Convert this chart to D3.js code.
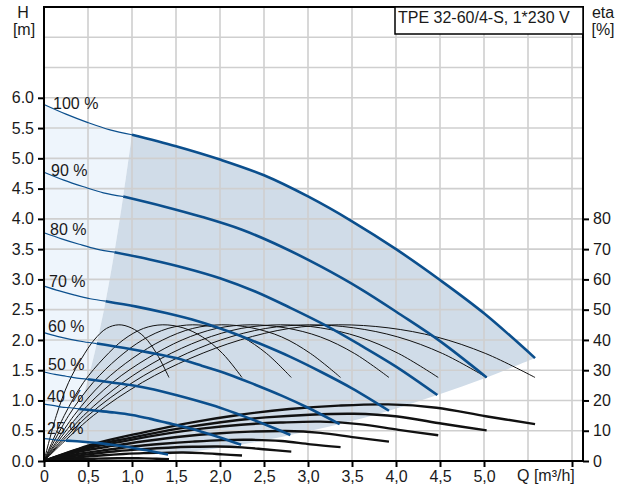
<!DOCTYPE html>
<html><head><meta charset="utf-8">
<script src="https://cdn.jsdelivr.net/npm/d3@7"></script>
<style>body{margin:0;background:#fff}svg{display:block}text{font-family:"Liberation Sans",Arial,sans-serif}</style>
</head><body><svg id="c" width="624" height="487"></svg>
<script>
// ---- data ----
const title = "TPE 32-60/4-S, 1*230 V";
const speedLabels = ["100 %","90 %","80 %","70 %","60 %","50 %","40 %","25 %"];
const hTicks = [0,0.5,1,1.5,2,2.5,3,3.5,4,4.5,5,5.5,6];
const qTicks = [0,0.5,1,1.5,2,2.5,3,3.5,4,4.5,5,6];
const etaTicks = [0,10,20,30,40,50,60,70,80];
// head curves [Q m3/h, H m]
const head100 = [[0,5.89],[0.25,5.73],[0.5,5.59],[0.75,5.47],[1.0,5.39],[1.5,5.20],[2.0,4.98],[2.5,4.72],[3.0,4.37],[3.5,3.96],[4.0,3.50],[4.5,2.99],[5.0,2.44],[5.58,1.70]];
const head90  = [[0,4.77],[0.225,4.64],[0.45,4.53],[0.675,4.43],[0.9,4.37],[1.35,4.21],[1.8,4.03],[2.25,3.82],[2.7,3.54],[3.15,3.21],[3.6,2.84],[4.05,2.42],[4.5,1.98],[5.03,1.38]];
const head80  = [[0,3.77],[0.2,3.67],[0.4,3.58],[0.6,3.50],[0.8,3.45],[1.2,3.33],[1.6,3.19],[2.0,3.02],[2.4,2.80],[2.8,2.53],[3.2,2.24],[3.6,1.91],[4.0,1.56],[4.47,1.09]];
const head70  = [[0,2.89],[0.175,2.81],[0.35,2.74],[0.525,2.68],[0.7,2.64],[1.05,2.55],[1.4,2.44],[1.75,2.31],[2.1,2.14],[2.45,1.94],[2.8,1.72],[3.15,1.47],[3.5,1.20],[3.92,0.83]];
const head60  = [[0,2.12],[0.15,2.06],[0.3,2.01],[0.45,1.97],[0.6,1.94],[0.9,1.87],[1.2,1.79],[1.5,1.70],[1.8,1.57],[2.1,1.43],[2.4,1.26],[2.7,1.08],[3.0,0.88],[3.36,0.61]];
const head50  = [[0,1.47],[0.125,1.43],[0.25,1.40],[0.375,1.37],[0.5,1.35],[0.75,1.30],[1.0,1.25],[1.25,1.18],[1.5,1.09],[1.75,0.99],[2.0,0.88],[2.25,0.75],[2.5,0.61],[2.80,0.43]];
const head40  = [[0,0.94],[0.1,0.92],[0.2,0.89],[0.3,0.88],[0.4,0.86],[0.6,0.83],[0.8,0.80],[1.0,0.76],[1.2,0.70],[1.4,0.63],[1.6,0.56],[1.8,0.48],[2.0,0.39],[2.24,0.27]];
const head25  = [[0,0.37],[0.0625,0.36],[0.125,0.35],[0.19,0.342],[0.25,0.337],[0.375,0.325],[0.5,0.31],[0.625,0.295],[0.75,0.273],[0.875,0.248],[1.0,0.219],[1.125,0.187],[1.25,0.153],[1.41,0.106]];
const headCurves = [head100,head90,head80,head70,head60,head50,head40,head25];
const minFlowIndex = 4; // thin part ends, operating range begins
// efficiency curves: flow points per speed
const flow100 = [0,0.56,1.12,1.67,2.23,2.79,3.35,3.91,4.46,5.02,5.58];
const flow90  = [0,0.50,1.01,1.51,2.01,2.52,3.02,3.52,4.02,4.53,5.03];
const flow80  = [0,0.45,0.90,1.34,1.79,2.24,2.69,3.14,3.58,4.03,4.48];
const flow70  = [0,0.39,0.78,1.18,1.57,1.96,2.35,2.74,3.14,3.53,3.92];
const flow60  = [0,0.34,0.67,1.01,1.35,1.69,2.02,2.36,2.70,3.03,3.37];
const flow50  = [0,0.28,0.56,0.84,1.12,1.41,1.69,1.97,2.25,2.53,2.81];
const flow40  = [0,0.23,0.45,0.68,0.90,1.13,1.35,1.58,1.80,2.03,2.25];
const flow25  = [0,0.14,0.28,0.43,0.57,0.71,0.85,0.99,1.14,1.28,1.42];
const flows = [flow100,flow90,flow80,flow70,flow60,flow50,flow40,flow25];
// hydraulic efficiency (thin) – same values read on every speed
const etaHydraulic = [0,15,26,34,40,43.8,45,44,41,35.5,27.6];
// total efficiency (thick)
const etaTot100 = [0,5.6,9.4,12.7,15.3,17.2,18.3,18.7,17.6,14.8,12.2];
const etaTot90  = [0,4.7,7.8,10.6,12.8,14.4,15.3,15.6,14.7,12.3,10.1];
const etaTot80  = [0,3.9,6.5,8.8,10.7,12.0,12.7,13.0,12.2,10.3,8.5];
const etaTot70  = [0,3.0,5.0,6.7,8.1,9.1,9.7,9.9,9.3,7.8,6.4];
const etaTot60  = [0,2.1,3.5,4.8,5.7,6.4,6.9,7.0,6.6,5.5,4.6];
const etaTot50  = [0,1.4,2.4,3.3,3.9,4.4,4.7,4.8,4.5,3.8,3.1];
const etaTot40  = [0,0.8,1.4,1.9,2.3,2.6,2.7,2.8,2.6,2.2,1.8];
const etaTot25  = [0,0.3,0.5,0.6,0.75,0.85,0.9,0.92,0.86,0.73,0.6];
const etaTotal = [etaTot100,etaTot90,etaTot80,etaTot70,etaTot60,etaTot50,etaTot40,etaTot25];

// ---- drawing ----
const svg = d3.select("#c");
const L=44,R=583,T=7,B=461;
const FS=16, TXT="#1a1a1a";
const x = d3.scaleLinear().domain([0,6.125]).range([L,R]);
const y = d3.scaleLinear().domain([0,7.5]).range([B,T]);
const y2 = d3.scaleLinear().domain([0,150]).range([B,T]);
const BLUE="#0b4f8d";

const lineH = d3.line().x(d=>x(d[0])).y(d=>y(d[1])).curve(d3.curveCatmullRom);
const pathOf = (pts)=>lineH(pts);
const join = (...parts)=>parts.map((p,i)=> i===0?p:p.replace(/^M/,"L")).join("")+"Z";

// regions
const ends = headCurves.map(c=>c[c.length-1]);              // end-of-curve boundary
const starts = headCurves.map(c=>c[minFlowIndex]);          // min-flow boundary
const dark = join(
  pathOf(head100.slice(minFlowIndex)),
  pathOf(ends),
  pathOf(head25.slice(minFlowIndex).reverse()),
  pathOf(starts.slice().reverse())
);
const light = join(
  pathOf(head100.slice(0,minFlowIndex+1)),
  pathOf(starts),
  pathOf(head25.slice(0,minFlowIndex+1).reverse())
);
svg.append("path").attr("d",light).attr("fill","#eef5fc");
svg.append("path").attr("d",dark).attr("fill","#d0dce8");

// grid
const g = svg.append("g").attr("stroke","#cfcfcf").attr("stroke-width",1.6);
d3.range(0.5,6.01,0.5).forEach(v=>g.append("line").attr("x1",x(v)).attr("x2",x(v)).attr("y1",T).attr("y2",B));
d3.range(0.5,7.01,0.5).forEach(v=>g.append("line").attr("x1",L).attr("x2",R).attr("y1",y(v)).attr("y2",y(v)));

// efficiency curves
const lineE = d3.line().x(d=>x(d[0])).y(d=>y2(d[1])).curve(d3.curveCatmullRom);
flows.forEach((f,i)=>{
  svg.append("path").attr("d",lineE(f.map((q,j)=>[q,etaHydraulic[j]])))
    .attr("fill","none").attr("stroke","#111").attr("stroke-width",1);
});
flows.forEach((f,i)=>{
  svg.append("path").attr("d",lineE(f.map((q,j)=>[q,etaTotal[i][j]])))
    .attr("fill","none").attr("stroke","#111").attr("stroke-width",2.4);
});

// head curves
headCurves.forEach(c=>{
  svg.append("path").attr("d",lineH(c.slice(0,minFlowIndex+1))).attr("fill","none").attr("stroke",BLUE).attr("stroke-width",1.2);
  svg.append("path").attr("d",lineH(c.slice(minFlowIndex))).attr("fill","none").attr("stroke",BLUE).attr("stroke-width",2.6);
});

// speed labels
const lblDX=[53,51,50,49,48,48,47,47], lblDY=[5,4,2,1,-1,-2,-2,-5];
speedLabels.forEach((s,i)=>{
  svg.append("text").attr("x",lblDX[i]).attr("y",y(headCurves[i][0][1])+lblDY[i])
    .attr("font-size",FS).attr("fill",TXT).text(s);
});

// axes
const axL = svg.append("g").attr("transform",`translate(${L},0)`)
  .call(d3.axisLeft(y).tickValues(hTicks).tickSize(6).tickPadding(4).tickFormat(d3.format(".1f")));
const axB = svg.append("g").attr("transform",`translate(0,${B})`)
  .call(d3.axisBottom(x).tickValues(qTicks).tickSize(6).tickPadding(4)
    .tickFormat(d=> d===0?"0": d>5.01?"": d.toFixed(1).replace(".",",")));
const axR = svg.append("g").attr("transform",`translate(${R},0)`)
  .call(d3.axisRight(y2).tickValues(etaTicks).tickSize(6).tickPadding(4).tickFormat(d3.format("d")));
[axL,axB,axR].forEach(a=>{
  a.select(".domain").remove();
  a.selectAll(".tick line").attr("stroke","#000").attr("stroke-width",2);
  a.selectAll(".tick text").attr("font-size",FS).attr("fill",TXT).attr("font-family",'"Liberation Sans",Arial,sans-serif');
});

// frame
const fr = svg.append("g").attr("stroke","#000").attr("stroke-width",2).attr("fill","none");
fr.append("line").attr("x1",L).attr("x2",L).attr("y1",T-1).attr("y2",B+1);
fr.append("line").attr("x1",R).attr("x2",R).attr("y1",T-1).attr("y2",B+1);
fr.append("line").attr("x1",L-1).attr("x2",R+1).attr("y1",T).attr("y2",T);
fr.append("line").attr("x1",L-1).attr("x2",R+1).attr("y1",B).attr("y2",B);

// axis titles
const t = (tx,ty,s,anchor)=>svg.append("text").attr("x",tx).attr("y",ty).attr("font-size",FS).attr("fill",TXT).attr("text-anchor",anchor||"start").text(s);
t(23,18,"H","middle"); t(24,35,"[m]","middle");
t(603,18,"eta","middle"); t(603,35,"[%]","middle");
t(517,481,"Q [m³/h]");

// title box
svg.append("rect").attr("x",395).attr("y",T).attr("width",R-395).attr("height",27).attr("fill","#fff").attr("stroke","#000").attr("stroke-width",1.5);
t(398,23,title);
</script></body></html>
